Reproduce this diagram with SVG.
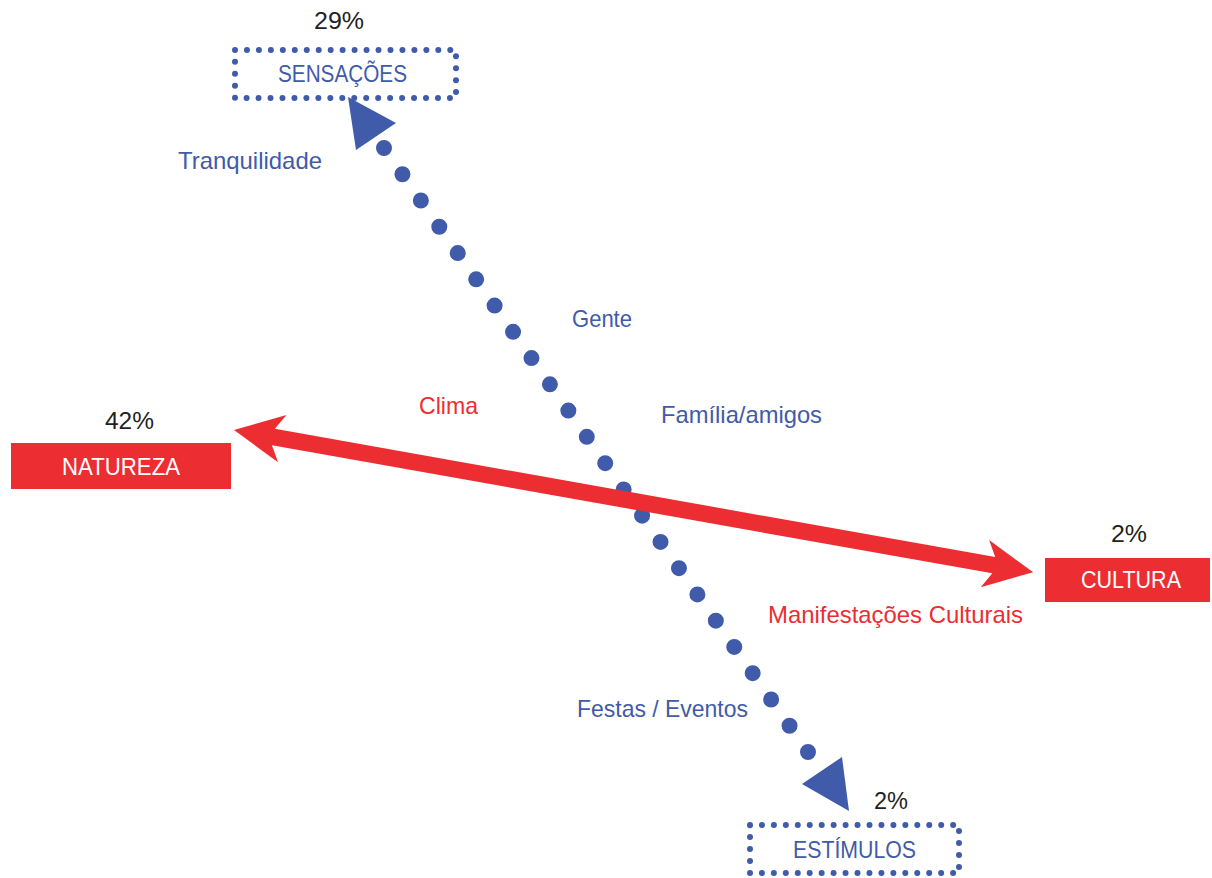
<svg xmlns="http://www.w3.org/2000/svg" width="1212" height="878" viewBox="0 0 1212 878">
  <style>
    text { font-family: "Liberation Sans", Arial, sans-serif; font-size: 24px; }
    .pct { fill: #231F20; }
    .blue { fill: #3F5BA9; }
    .red { fill: #EC2D32; }
    .white { fill: #FFFFFF; }
    .dotbox { fill: none; stroke: #3F5BA9; stroke-width: 6; stroke-linecap: round; }
    .redbox { fill: #EC2D32; }
  </style>
  <rect width="1212" height="878" fill="#FFFFFF"/>

  <g id="connectors">
    <line x1="384" y1="148" x2="808" y2="752" stroke="#3F5BA9" stroke-width="16" stroke-linecap="round" stroke-dasharray="0 32.085"/>
    <polygon points="348,97 396,123 356,150" fill="#3F5BA9"/>
    <polygon points="849,811 842,757 802,784" fill="#3F5BA9"/>
    <path transform="translate(234,430) rotate(10.09)" fill="#EC2D32" d="M0,0 L49,-24 L40,-8.3 L771.7,-8.3 L762.7,-24 L811.7,0 L762.7,24 L771.7,8.3 L40,8.3 L49,24 Z"/>
  </g>

  <g id="sensacoes">
    <rect class="dotbox" x="235" y="50" width="221" height="48" stroke-dasharray="0 11.96"/>
    <text class="blue" x="278" y="82" textLength="129" lengthAdjust="spacingAndGlyphs">SENSAÇÕES</text>
    <text class="pct" x="314" y="29" textLength="50" lengthAdjust="spacingAndGlyphs">29%</text>
  </g>

  <g id="natureza">
    <rect class="redbox" x="11" y="443" width="220" height="46"/>
    <text class="white" x="62" y="475" textLength="118" lengthAdjust="spacingAndGlyphs">NATUREZA</text>
    <text class="pct" x="105" y="429" textLength="49" lengthAdjust="spacingAndGlyphs">42%</text>
  </g>

  <g id="cultura">
    <rect class="redbox" x="1045" y="558" width="165" height="44"/>
    <text class="white" x="1081" y="588" textLength="100" lengthAdjust="spacingAndGlyphs">CULTURA</text>
    <text class="pct" x="1111" y="542" textLength="36" lengthAdjust="spacingAndGlyphs">2%</text>
  </g>

  <g id="estimulos">
    <rect class="dotbox" x="750" y="825" width="209" height="48" stroke-dasharray="0 11.95"/>
    <text class="blue" x="793" y="858" textLength="123" lengthAdjust="spacingAndGlyphs">ESTÍMULOS</text>
    <text class="pct" x="874" y="809" textLength="34" lengthAdjust="spacingAndGlyphs">2%</text>
  </g>

  <g id="labels">
    <text class="blue" x="178" y="169" textLength="144" lengthAdjust="spacingAndGlyphs">Tranquilidade</text>
    <text class="blue" x="572" y="327" textLength="60" lengthAdjust="spacingAndGlyphs">Gente</text>
    <text class="red" x="419" y="414" textLength="59" lengthAdjust="spacingAndGlyphs">Clima</text>
    <text class="blue" x="661" y="423" textLength="161" lengthAdjust="spacingAndGlyphs">Família/amigos</text>
    <text class="red" x="768" y="623" textLength="255" lengthAdjust="spacingAndGlyphs">Manifestações Culturais</text>
    <text class="blue" x="577" y="717" textLength="171" lengthAdjust="spacingAndGlyphs">Festas / Eventos</text>
  </g>
</svg>
